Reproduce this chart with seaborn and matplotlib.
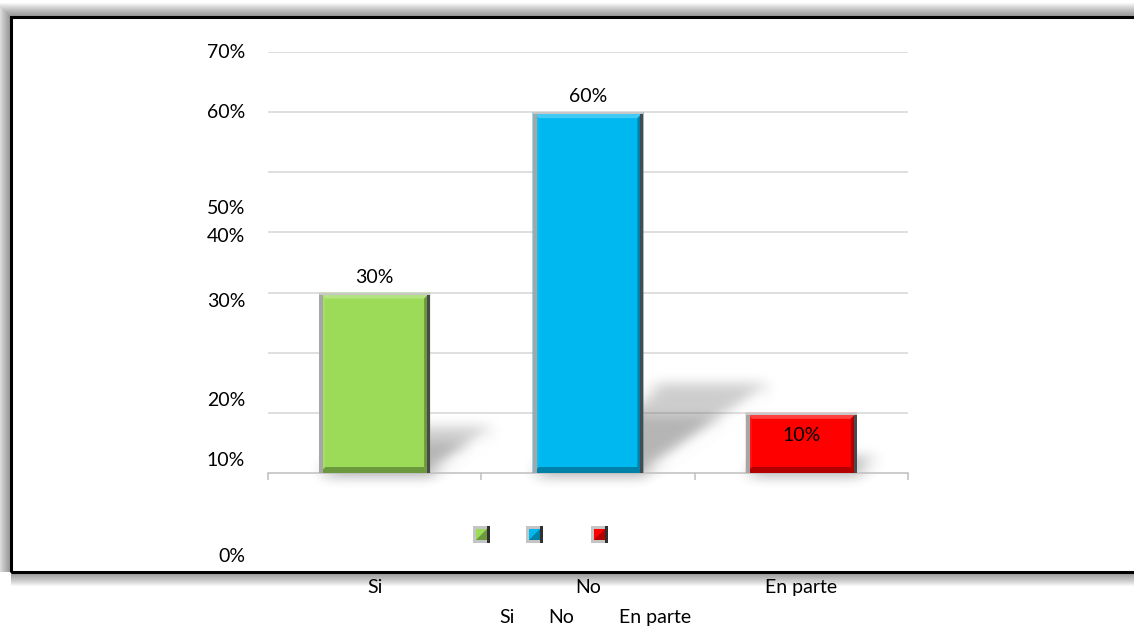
import numpy as np
import matplotlib
matplotlib.use("Agg")
import matplotlib.pyplot as plt
import matplotlib.transforms as mtransforms
from matplotlib.patches import Polygon, Rectangle
from matplotlib.colors import to_rgb
import seaborn as sns

# ---- data ----
categories = ["Si", "No", "En parte"]
values = [0.30, 0.60, 0.10]
bar_colors = ["#9BDB58", "#00B8F0", "#FF0000"]
value_labels = ["30%", "60%", "10%"]
axis_labels = ["0%", "10%", "20%", "30%", "40%", "50%", "60%", "70%"]
grid_levels = [0.1, 0.2, 0.3, 0.4, 0.5, 0.6, 0.7]

# ---- layout (pixels) ----
W, H = 1134, 627
axis_label_rows = [557, 460, 400, 302, 236, 209, 112, 52]
legend_box_cols = [481, 534, 599]
legend_text_cols = [507, 561, 655]

sns.set_theme(style="white")
plt.rcParams["font.family"] = ["Lato", "DejaVu Sans"]
FS = 14

fig = plt.figure(figsize=(W / 100, H / 100), dpi=100)
PX = mtransforms.IdentityTransform()


def py(y):
    return H - y


ax = fig.add_axes([268 / W, 1 - 473 / H, 640 / W, 421 / H])
ax.patch.set_visible(False)
sns.barplot(x=categories, y=values, hue=categories, palette=bar_colors,
            width=0.52, saturation=1, legend=False, ax=ax, zorder=3,
            edgecolor="none", linewidth=0)
ax.set_xlim(-0.5, 2.5)
ax.set_ylim(0, 0.70)

for s in ["left", "right", "top"]:
    ax.spines[s].set_visible(False)
ax.spines["bottom"].set_color("#BFBFBF")
ax.spines["bottom"].set_linewidth(1.1)
ax.set_yticks([])
for g in grid_levels:
    ax.axhline(g, color="#D9D9D9", lw=1.2, zorder=0)

ax.set_xticks(range(len(categories)))
ax.set_xticklabels(categories, fontsize=FS, color="black")
ax.tick_params(axis="x", which="major", length=0, pad=76)
ax.set_xticks([-0.5, 0.5, 1.5, 2.5], minor=True)
ax.tick_params(axis="x", which="minor", length=5, width=1.1,
               color="#BFBFBF", direction="out", bottom=True)
ax.set_xlabel("")
ax.set_ylabel("")

for lab, yy in zip(axis_labels, axis_label_rows):
    fig.text(245 / W, 1 - yy / H, lab, ha="right", va="center",
             fontsize=FS, color="black")


def blur(sigma, pad):
    x = np.arange(-pad, pad + 1)
    k = np.exp(-x ** 2 / (2.0 * sigma ** 2))
    k /= k.sum()

    def _f(img, dpi):
        a = np.pad(img, ((pad, pad), (pad, pad), (0, 0)))
        a = np.apply_along_axis(lambda m: np.convolve(m, k, mode="same"), 0, a)
        a = np.apply_along_axis(lambda m: np.convolve(m, k, mode="same"), 1, a)
        return a, -pad, -pad
    return _f


def shade(c, f):
    r = np.array(to_rgb(c))
    if f >= 0:
        return tuple(r + (1 - r) * f)
    return tuple(r * (1 + f))


fig.canvas.draw()
inv = ax.transData.inverted()


def to_data(pts):
    return inv.transform(np.asarray(pts, float))


bars = [p for p in ax.patches if isinstance(p, Rectangle)][:len(values)]
for bar, col, val, lab in zip(bars, bar_colors, values, value_labels):
    x0d, y0d = bar.get_x(), bar.get_y()
    x1d, y1d = x0d + bar.get_width(), y0d + bar.get_height()
    (x0, y0), (x1, y1) = ax.transData.transform([(x0d, y0d), (x1d, y1d)])
    h = y1 - y0

    # cast shadow on the floor, darker close to the bar
    for frac, alpha in [(1.0, 0.35), (0.6, 0.25)]:
        sh = [(x0, y0), (x1, y0),
              (x1 + 0.35 * h * frac, y0 + 0.24 * h * frac),
              (x0 + 0.35 * h * frac, y0 + 0.24 * h * frac)]
        sp = Polygon(to_data(sh), closed=True, facecolor="#6f6f6f",
                     alpha=alpha, edgecolor="none", zorder=1)
        sp.set_agg_filter(blur(7, 22))
        ax.add_patch(sp)

    # bevel faces
    b = 6
    faces = [
        ([(x0, y1), (x1, y1), (x1 - b, y1 - b), (x0 + b, y1 - b)], shade(col, 0.25)),
        ([(x1, y1), (x1, y0), (x1 - b, y0 + b), (x1 - b, y1 - b)], shade(col, -0.3)),
        ([(x0, y0), (x1, y0), (x1 - b, y0 + b), (x0 + b, y0 + b)], shade(col, -0.3)),
        ([(x0, y0), (x0, y1), (x0 + b, y1 - b), (x0 + b, y0 + b)], shade(col, 0.08)),
    ]
    for pts, fc in faces:
        ax.add_patch(Polygon(to_data(pts), closed=True, facecolor=fc,
                             edgecolor="none", zorder=4))
    # outer rim: light on the left and top, dark on the right
    rims = [
        ([(x0, y0), (x0 + 4, y0), (x0 + 4, y1), (x0, y1)], "#A6A6A6"),
        ([(x1 - 3, y0), (x1, y0), (x1, y1), (x1 - 3, y1)], "#4A4A4A"),
        ([(x0, y1 - 2), (x1, y1 - 2), (x1, y1), (x0, y1)], "#C8C8C8"),
    ]
    for pts, fc in rims:
        ax.add_patch(Polygon(to_data(pts), closed=True, facecolor=fc,
                             edgecolor="none", zorder=5))

    cx = (x0d + x1d) / 2
    if h > 80:
        ax.annotate(lab, (cx, val), xytext=(0, 5), textcoords="offset points",
                    ha="center", va="bottom", fontsize=FS, color="black", zorder=6)
    else:
        ax.annotate(lab, (cx, val), xytext=(0, -16), textcoords="offset points",
                    ha="center", va="center", fontsize=FS, color="black", zorder=6)

# legend swatches and labels
for cxp, col in zip(legend_box_cols, bar_colors):
    s = 17
    yc = py(534)
    fig.patches.append(Rectangle((cxp - s / 2, yc - s / 2), s, s,
                                 transform=PX, facecolor="#C4C4C4",
                                 edgecolor="none", figure=fig))
    fig.patches.append(Rectangle((cxp - 5.5, yc - 5.5), 11, 11, transform=PX,
                                 facecolor=col, edgecolor="none", figure=fig))
    fig.patches.append(Polygon([(cxp - 5.5, yc - 5.5), (cxp + 5.5, yc - 5.5),
                                (cxp + 5.5, yc + 5.5)], closed=True,
                               transform=PX, facecolor=shade(col, -0.3),
                               edgecolor="none", figure=fig))
    fig.patches.append(Rectangle((cxp + s / 2 - 3, yc - s / 2), 3, s,
                                 transform=PX, facecolor="#303030",
                                 edgecolor="none", figure=fig))
for cxp, lab in zip(legend_text_cols, categories):
    fig.text(cxp / W, 1 - 623 / H, lab, ha="center", va="baseline",
             fontsize=FS, color="black")

# chart frame with a soft glow outside it
fx, fy, fw, fh = 11, py(572), 1140, 555
for i in range(14, 0, -1):
    fig.patches.append(Rectangle((fx, fy), fw, fh, transform=PX,
                                 fill=False, edgecolor="black",
                                 linewidth=i * 2 * 0.72, alpha=0.035,
                                 figure=fig, zorder=-3))
fig.patches.append(Rectangle((fx, fy), fw, fh, transform=PX,
                             facecolor="white", edgecolor="none",
                             figure=fig, zorder=-2))
fig.patches.append(Rectangle((fx, fy), fw, fh, transform=PX,
                             fill=False, edgecolor="black", linewidth=2.2,
                             figure=fig, zorder=-1))

fig.savefig("out.png", dpi=100, facecolor="white")
